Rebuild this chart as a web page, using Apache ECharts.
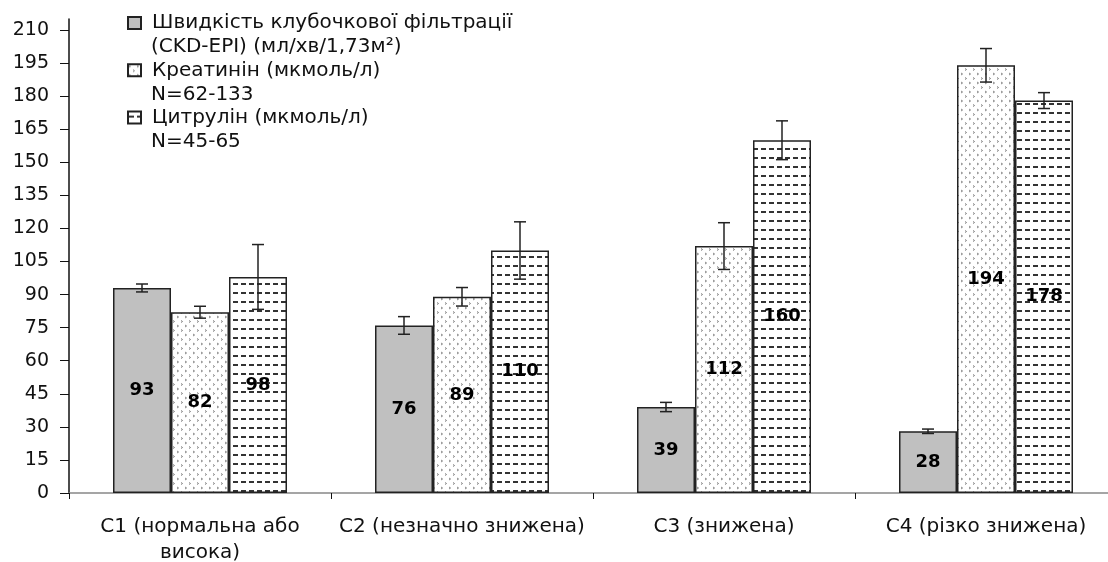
<!DOCTYPE html>
<html>
<head>
<meta charset="utf-8">
<script src="https://cdn.jsdelivr.net/npm/echarts@6/dist/echarts.min.js"></script>
<style>
  html, body { margin: 0; padding: 0; background: #fff; }
  #main { width: 1108px; height: 562px; }
</style>
</head>
<body>
<div id="main"></div>
<script>
var categories = ['C1 (нормальна або\nвисока)', 'C2 (незначно знижена)', 'C3 (знижена)', 'C4 (різко знижена)'];
var seriesNames = ['Швидкість клубочкової фільтрації', 'Креатинін (мкмоль/л)', 'Цитрулін (мкмоль/л)'];
var seriesNotes = ['(CKD-EPI) (мл/хв/1,73м²)', 'N=62-133', 'N=45-65'];
var gfr = [93, 76, 39, 28];
var creatinine = [82, 89, 112, 194];
var citrulline = [98, 110, 160, 178];
var gfrErr = [1.8, 4, 2.1, 1];
var creatinineErr = [2.7, 4.2, 10.6, 7.6];
var citrullineErr = [14.7, 13, 8.8, 3.6];
var yTicks = [0, 15, 30, 45, 60, 75, 90, 105, 120, 135, 150, 165, 180, 195, 210];

var FONT = 'DejaVu Sans';
var BAR_W = 58;

// fill patterns
function dotPattern() {
  var c = document.createElement('canvas');
  c.width = 8; c.height = 9;
  var ctx = c.getContext('2d');
  ctx.fillStyle = '#fff';
  ctx.fillRect(0, 0, 8, 9);
  ctx.strokeStyle = '#888';
  ctx.lineWidth = 1;
  ctx.beginPath();
  ctx.moveTo(1, 1); ctx.lineTo(2.6, 2); ctx.lineTo(1, 3);
  ctx.moveTo(5, 5.5); ctx.lineTo(6.6, 6.5); ctx.lineTo(5, 7.5);
  ctx.stroke();
  return c;
}
function dashPattern() {
  var c = document.createElement('canvas');
  c.width = 8; c.height = 9;
  var ctx = c.getContext('2d');
  ctx.fillStyle = '#fff';
  ctx.fillRect(0, 0, 8, 9);
  ctx.fillStyle = '#333';
  ctx.fillRect(1, 4, 5, 2);
  return c;
}

function barSeries(name, values, color) {
  return {
    name: name,
    type: 'bar',
    barWidth: BAR_W,
    barGap: '0%',
    data: values,
    itemStyle: { color: color, borderColor: '#222', borderWidth: 1.5 },
    label: {
      show: true,
      position: 'inside',
      color: '#000',
      fontFamily: FONT,
      fontWeight: 'bold',
      fontSize: 18
    }
  };
}

function errorSeries(values, errs, idx) {
  return {
    type: 'custom',
    z: 5,
    silent: true,
    data: values.map(function (v, i) { return [i, v - errs[i], v + errs[i]]; }),
    encode: { x: 0, y: [1, 2] },
    renderItem: function (params, api) {
      var lo = api.coord([api.value(0), api.value(1)]);
      var hi = api.coord([api.value(0), api.value(2)]);
      var x = lo[0] + (idx - 1) * BAR_W;
      var st = { stroke: '#222', lineWidth: 1.5 };
      return {
        type: 'group',
        children: [
          { type: 'line', shape: { x1: x, y1: lo[1], x2: x, y2: hi[1] }, style: st },
          { type: 'line', shape: { x1: x - 6, y1: lo[1], x2: x + 6, y2: lo[1] }, style: st },
          { type: 'line', shape: { x1: x - 6, y1: hi[1], x2: x + 6, y2: hi[1] }, style: st }
        ]
      };
    }
  };
}

var myChart = echarts.init(document.getElementById('main'));

var legendTop = 11;
var legendStep = 47.3;

var option = {
  animation: false,
  grid: { left: 69, right: -9, top: 19, bottom: 69, outerBoundsMode: 'none' },
  legend: {
    data: seriesNames,
    orient: 'vertical',
    left: 127,
    top: legendTop,
    padding: 0,
    itemWidth: 13,
    itemHeight: 12,
    itemGap: 23.3,
    icon: 'rect',
    textStyle: { fontFamily: FONT, fontSize: 20, color: '#111', lineHeight: 24, padding: [0, 0, 0, 6] }
  },
  graphic: seriesNotes.map(function (t, i) {
    return {
      type: 'text',
      x: 151,
      y: legendTop + 12 + 24 + i * legendStep,
      style: { text: t, font: '20px "' + FONT + '"', fill: '#111', verticalAlign: 'middle' }
    };
  }),
  xAxis: {
    type: 'category',
    data: categories,
    axisLine: { lineStyle: { color: '#888', width: 1.5 } },
    axisTick: { show: true, interval: 0, length: 6, lineStyle: { color: '#111' } },
    axisLabel: {
      interval: 0,
      fontFamily: FONT,
      fontSize: 20,
      color: '#111',
      margin: 21,
      lineHeight: 26
    }
  },
  yAxis: {
    type: 'value',
    min: 0,
    max: 215,
    interval: 15,
    splitLine: { show: false },
    axisLine: { show: true, lineStyle: { color: '#111', width: 1.5 } },
    axisTick: { show: true, length: 9, customValues: yTicks, lineStyle: { color: '#111' } },
    axisLabel: {
      customValues: yTicks,
      fontFamily: FONT,
      fontSize: 19,
      color: '#111',
      margin: 20
    }
  },
  series: [
    barSeries(seriesNames[0], gfr, '#c0c0c0'),
    barSeries(seriesNames[1], creatinine, { image: dotPattern(), repeat: 'repeat' }),
    barSeries(seriesNames[2], citrulline, { image: dashPattern(), repeat: 'repeat' }),
    errorSeries(gfr, gfrErr, 0),
    errorSeries(creatinine, creatinineErr, 1),
    errorSeries(citrulline, citrullineErr, 2)
  ]
};
myChart.setOption(option);
</script>
</body>
</html>
